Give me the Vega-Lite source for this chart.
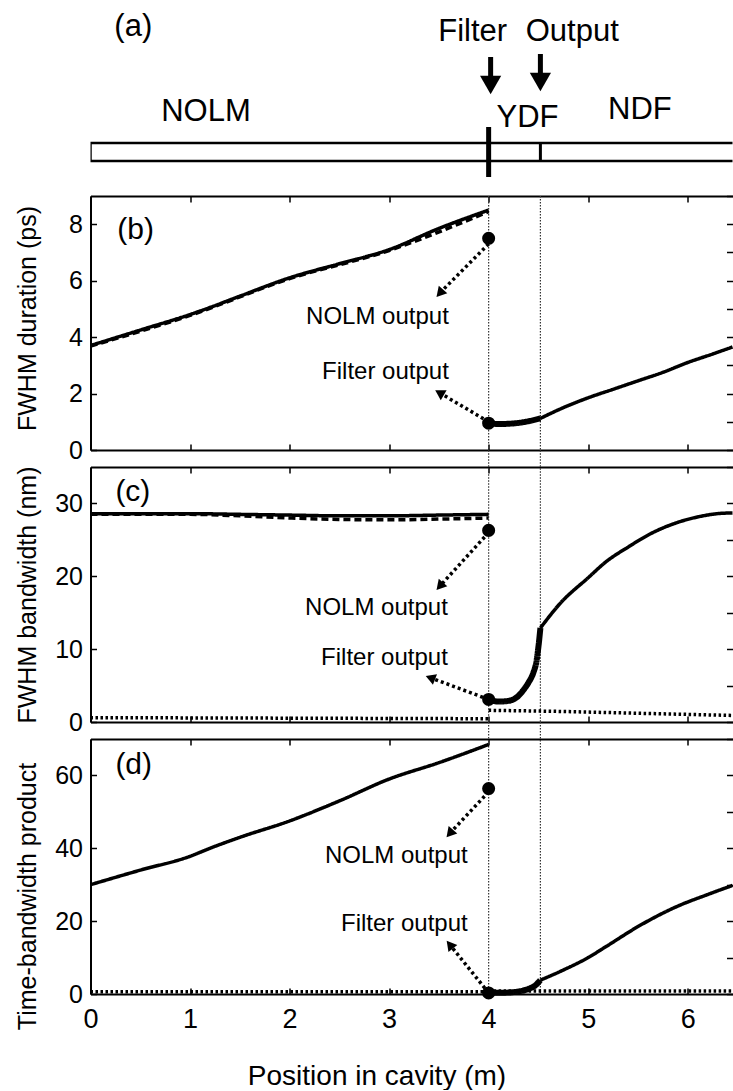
{
  "$schema": "https://vega.github.io/schema/vega-lite/v6.json",
  "background": "white",
  "padding": {"left": 14.5, "right": 0, "top": 0, "bottom": 0},
  "bounds": "flush",
  "spacing": 17,
  "config": {
    "view": {"stroke": null},
    "font": "Liberation Sans",
    "axis": {
      "labelFont": "Liberation Sans", "titleFont": "Liberation Sans",
      "labelColor": "black", "titleColor": "black",
      "tickColor": "black", "tickWidth": 1.5, "tickSize": -6,
      "domainColor": "black", "domainWidth": 2,
      "grid": false, "labelFontSize": 25, "titleFontSize": 25,
      "titleFontWeight": "normal", "labelFlush": false, "labelOverlap": false
    },
    "text": {"font": "Liberation Sans", "color": "black"}
  },
  "datasets": {
    "vlines": [{"x": 4.0}, {"x": 4.52}],
    "a_items": [
      {"kind": "text", "x": 0.43, "y": 27, "label": "(a)"},
      {"kind": "text", "x": 3.84, "y": 32, "label": "Filter"},
      {"kind": "text", "x": 4.84, "y": 32, "label": "Output"},
      {"kind": "text", "x": 1.16, "y": 112, "label": "NOLM"},
      {"kind": "text", "x": 4.39, "y": 118, "label": "YDF"},
      {"kind": "text", "x": 5.52, "y": 110, "label": "NDF"},
      {"kind": "sep", "x": 4.0, "y": 127, "y2": 177},
      {"kind": "out", "x": 4.52, "y": 143, "y2": 161},
      {"kind": "arrow", "x": 4.02, "y": 57, "y2": 78},
      {"kind": "arrow", "x": 4.52, "y": 54, "y2": 75},
      {"kind": "head", "x": 4.02, "y": 85},
      {"kind": "head", "x": 4.52, "y": 82},
      {"kind": "bar", "x": 0.0, "x2": 6.6, "y": 143, "y2": 161}
    ],
    "b_lines": [
      {"s": "NOLM", "x": 0.0, "y": 3.7}, {"s": "NOLM", "x": 0.5, "y": 4.25}, {"s": "NOLM", "x": 1.0, "y": 4.8},
      {"s": "NOLM", "x": 1.2, "y": 5.05}, {"s": "NOLM", "x": 1.5, "y": 5.45}, {"s": "NOLM", "x": 2.0, "y": 6.1},
      {"s": "NOLM", "x": 2.5, "y": 6.6}, {"s": "NOLM", "x": 3.0, "y": 7.1}, {"s": "NOLM", "x": 3.5, "y": 7.85},
      {"s": "NOLM", "x": 4.0, "y": 8.5},
      {"s": "NOLM2", "x": 0.0, "y": 3.68}, {"s": "NOLM2", "x": 1.0, "y": 4.77}, {"s": "NOLM2", "x": 2.0, "y": 6.07},
      {"s": "NOLM2", "x": 3.0, "y": 7.07}, {"s": "NOLM2", "x": 4.0, "y": 8.45},
      {"s": "YDF", "x": 4.0, "y": 0.95}, {"s": "YDF", "x": 4.1, "y": 0.92}, {"s": "YDF", "x": 4.2, "y": 0.93},
      {"s": "YDF", "x": 4.3, "y": 0.96}, {"s": "YDF", "x": 4.4, "y": 1.02}, {"s": "YDF", "x": 4.52, "y": 1.12},
      {"s": "NDF", "x": 4.52, "y": 1.12}, {"s": "NDF", "x": 4.75, "y": 1.5}, {"s": "NDF", "x": 5.0, "y": 1.85},
      {"s": "NDF", "x": 5.25, "y": 2.15}, {"s": "NDF", "x": 5.5, "y": 2.45}, {"s": "NDF", "x": 5.75, "y": 2.75},
      {"s": "NDF", "x": 6.0, "y": 3.1}, {"s": "NDF", "x": 6.25, "y": 3.4}, {"s": "NDF", "x": 6.45, "y": 3.65}
    ],
    "b_dots": [{"label": "NOLM", "x": 4.0, "y": 7.5}, {"label": "Filter", "x": 4.0, "y": 0.95}],
    "b_arrows": [
      {"label": "NOLM", "x": 4.0, "y": 7.3, "x2": 3.52, "y2": 5.6},
      {"label": "Filter", "x": 4.0, "y": 1.0, "x2": 3.52, "y2": 2.0}
    ],
    "b_text": [{"x": 3.6, "y": 4.7, "label": "NOLM output"}, {"x": 3.6, "y": 2.75, "label": "Filter output"}],
    "b_panel": [{"x": 0.27, "y": 7.8, "label": "(b)"}],
    "c_lines": [
      {"s": "NOLM", "x": 0.0, "y": 28.6}, {"s": "NOLM", "x": 1.0, "y": 28.6}, {"s": "NOLM", "x": 1.5, "y": 28.5},
      {"s": "NOLM", "x": 2.0, "y": 28.4}, {"s": "NOLM", "x": 2.5, "y": 28.3}, {"s": "NOLM", "x": 3.0, "y": 28.3},
      {"s": "NOLM", "x": 3.5, "y": 28.4}, {"s": "NOLM", "x": 4.0, "y": 28.5},
      {"s": "NOLM2", "x": 0.0, "y": 28.5}, {"s": "NOLM2", "x": 1.0, "y": 28.5}, {"s": "NOLM2", "x": 1.5, "y": 28.3},
      {"s": "NOLM2", "x": 2.0, "y": 28.0}, {"s": "NOLM2", "x": 2.5, "y": 27.8}, {"s": "NOLM2", "x": 3.0, "y": 27.75},
      {"s": "NOLM2", "x": 3.5, "y": 27.85}, {"s": "NOLM2", "x": 4.0, "y": 28.0},
      {"s": "YDF", "x": 4.0, "y": 3.1}, {"s": "YDF", "x": 4.1, "y": 2.8}, {"s": "YDF", "x": 4.2, "y": 2.9},
      {"s": "YDF", "x": 4.3, "y": 3.6}, {"s": "YDF", "x": 4.35, "y": 4.4}, {"s": "YDF", "x": 4.4, "y": 5.4},
      {"s": "YDF", "x": 4.45, "y": 6.8}, {"s": "YDF", "x": 4.48, "y": 8.3}, {"s": "YDF", "x": 4.5, "y": 10.3},
      {"s": "YDF", "x": 4.52, "y": 12.9},
      {"s": "NDF", "x": 4.52, "y": 12.9}, {"s": "NDF", "x": 4.72, "y": 16.3}, {"s": "NDF", "x": 5.0, "y": 19.8},
      {"s": "NDF", "x": 5.18, "y": 22.0}, {"s": "NDF", "x": 5.4, "y": 24.0}, {"s": "NDF", "x": 5.65, "y": 26.0},
      {"s": "NDF", "x": 5.9, "y": 27.4}, {"s": "NDF", "x": 6.12, "y": 28.2}, {"s": "NDF", "x": 6.3, "y": 28.6},
      {"s": "NDF", "x": 6.45, "y": 28.7},
      {"s": "BASE1", "x": 0.0, "y": 0.6}, {"s": "BASE1", "x": 4.0, "y": 0.45},
      {"s": "BASE2", "x": 4.0, "y": 1.6}, {"s": "BASE2", "x": 4.52, "y": 1.5}, {"s": "BASE2", "x": 5.5, "y": 1.2},
      {"s": "BASE2", "x": 6.45, "y": 0.9}
    ],
    "c_dots": [{"label": "NOLM", "x": 4.0, "y": 26.3}, {"label": "Filter", "x": 4.0, "y": 3.1}],
    "c_arrows": [
      {"label": "NOLM", "x": 4.0, "y": 26.0, "x2": 3.52, "y2": 18.8},
      {"label": "Filter", "x": 4.0, "y": 3.1, "x2": 3.43, "y2": 6.0}
    ],
    "c_text": [{"x": 3.59, "y": 15.7, "label": "NOLM output"}, {"x": 3.59, "y": 8.8, "label": "Filter output"}],
    "c_panel": [{"x": 0.25, "y": 31.6, "label": "(c)"}],
    "d_lines": [
      {"s": "NOLM", "x": 0.0, "y": 30.0}, {"s": "NOLM", "x": 0.5, "y": 34.0}, {"s": "NOLM", "x": 1.0, "y": 37.8},
      {"s": "NOLM", "x": 1.2, "y": 40.0}, {"s": "NOLM", "x": 1.5, "y": 43.0}, {"s": "NOLM", "x": 2.0, "y": 47.5},
      {"s": "NOLM", "x": 2.5, "y": 53.0}, {"s": "NOLM", "x": 3.0, "y": 59.0}, {"s": "NOLM", "x": 3.5, "y": 63.5},
      {"s": "NOLM", "x": 4.0, "y": 68.5},
      {"s": "YDF", "x": 4.0, "y": 0.3}, {"s": "YDF", "x": 4.15, "y": 0.35}, {"s": "YDF", "x": 4.3, "y": 0.7},
      {"s": "YDF", "x": 4.4, "y": 1.4}, {"s": "YDF", "x": 4.47, "y": 2.4}, {"s": "YDF", "x": 4.52, "y": 3.8},
      {"s": "NDF", "x": 4.52, "y": 3.8}, {"s": "NDF", "x": 4.72, "y": 6.2}, {"s": "NDF", "x": 5.0, "y": 10.0},
      {"s": "NDF", "x": 5.19, "y": 13.2}, {"s": "NDF", "x": 5.5, "y": 18.5}, {"s": "NDF", "x": 5.89, "y": 24.0},
      {"s": "NDF", "x": 6.2, "y": 27.3}, {"s": "NDF", "x": 6.45, "y": 29.8},
      {"s": "BASE1", "x": 0.0, "y": 0.6}, {"s": "BASE1", "x": 4.0, "y": 0.6},
      {"s": "BASE2", "x": 4.0, "y": 0.8}, {"s": "BASE2", "x": 6.45, "y": 0.8}
    ],
    "d_dots": [{"label": "NOLM", "x": 4.0, "y": 56.4}, {"label": "Filter", "x": 4.0, "y": 0.3}],
    "d_arrows": [
      {"label": "NOLM", "x": 4.0, "y": 55.5, "x2": 3.62, "y2": 44.4},
      {"label": "Filter", "x": 4.0, "y": 0.3, "x2": 3.62, "y2": 13.2}
    ],
    "d_text": [{"x": 3.79, "y": 37.8, "label": "NOLM output"}, {"x": 3.79, "y": 19.2, "label": "Filter output"}],
    "d_panel": [{"x": 0.25, "y": 63, "label": "(d)"}]
  },
  "vconcat": [
    {
      "width": 642, "height": 179,
      "view": {"stroke": null, "fill": "white"},
      "data": {"name": "a_items"},
      "layer": [
        {
          "transform": [{"filter": "datum.kind === 'bar'"}],
          "mark": {"type": "rect", "fill": "white", "stroke": "black", "strokeWidth": 2.5, "clip": true},
          "encoding": {
            "x": {"field": "x", "type": "quantitative", "scale": {"domain": [0, 6.45], "nice": false, "zero": false}, "axis": null},
            "x2": {"field": "x2"},
            "y": {"field": "y", "type": "quantitative", "scale": {"domain": [0, 179], "nice": false, "reverse": true}, "axis": null},
            "y2": {"field": "y2"}
          }
        },
        {
          "transform": [{"filter": "datum.kind === 'sep'"}],
          "mark": {"type": "rule", "color": "black", "strokeWidth": 5},
          "encoding": {
            "x": {"field": "x", "type": "quantitative"},
            "y": {"field": "y", "type": "quantitative"},
            "y2": {"field": "y2"}
          }
        },
        {
          "transform": [{"filter": "datum.kind === 'out'"}],
          "mark": {"type": "rule", "color": "black", "strokeWidth": 3},
          "encoding": {
            "x": {"field": "x", "type": "quantitative"},
            "y": {"field": "y", "type": "quantitative"},
            "y2": {"field": "y2"}
          }
        },
        {
          "transform": [{"filter": "datum.kind === 'arrow'"}],
          "mark": {"type": "rule", "color": "black", "strokeWidth": 5},
          "encoding": {
            "x": {"field": "x", "type": "quantitative"},
            "y": {"field": "y", "type": "quantitative"},
            "y2": {"field": "y2"}
          }
        },
        {
          "transform": [{"filter": "datum.kind === 'head'"}],
          "mark": {"type": "point", "shape": "triangle-down", "filled": true, "color": "black", "opacity": 1, "size": 450},
          "encoding": {
            "x": {"field": "x", "type": "quantitative"},
            "y": {"field": "y", "type": "quantitative"}
          }
        },
        {
          "transform": [{"filter": "datum.kind === 'text'"}],
          "mark": {"type": "text", "fontSize": 31, "align": "center", "baseline": "middle"},
          "encoding": {
            "x": {"field": "x", "type": "quantitative"},
            "y": {"field": "y", "type": "quantitative"},
            "text": {"field": "label"}
          }
        }
      ]
    },
    {
      "width": 642, "height": 254,
      "layer": [
        {
          "layer": [
            {
              "data": {"name": "vlines"},
              "mark": {"type": "rule", "color": "#333", "strokeWidth": 1.2, "strokeDash": [1.5, 1.5]},
              "encoding": {
                "x": {"field": "x", "type": "quantitative", "scale": {"domain": [0, 6.45], "nice": false, "zero": false},
                  "axis": {"values": [0, 1, 2, 3, 4, 5, 6], "labels": false, "title": null}}
              }
            },
            {
              "data": {"name": "b_lines"},
              "mark": {"type": "line", "color": "black", "strokeJoin": "round", "interpolate": "monotone"},
              "encoding": {
                "x": {"field": "x", "type": "quantitative"},
                "y": {"field": "y", "type": "quantitative", "scale": {"domain": [0, 9], "nice": false},
                  "axis": {"title": "FWHM duration (ps)", "values": [0, 1, 2, 3, 4, 5, 6, 7, 8, 9],
                    "labelExpr": "datum.value % 2 === 0 ? datum.label : ''", "labelPadding": 14,
                    "titleX": -63, "titleY": 122, "titleBaseline": "middle"}},
                "detail": {"field": "s", "type": "nominal"},
                "strokeWidth": {"condition": {"test": "datum.s === 'YDF'", "value": 6}, "value": 3.5},
                "strokeDash": {"condition": [
                  {"test": "datum.s === 'NOLM2'", "value": [7, 4]},
                  {"test": "datum.s === 'BASE1' || datum.s === 'BASE2'", "value": [2.5, 2.5]}
                ], "value": [1, 0]}
              }
            },
            {
              "data": {"name": "b_arrows"},
              "mark": {"type": "rule", "color": "black", "strokeWidth": 3.5, "strokeDash": [3, 3]},
              "encoding": {
                "x": {"field": "x", "type": "quantitative"},
                "y": {"field": "y", "type": "quantitative"},
                "x2": {"field": "x2"},
                "y2": {"field": "y2"}
              }
            },
            {
              "data": {"name": "b_arrows"},
              "mark": {"type": "point", "shape": "triangle", "filled": true, "color": "black", "opacity": 1, "size": 130},
              "encoding": {
                "x": {"field": "x2", "type": "quantitative"},
                "y": {"field": "y2", "type": "quantitative"},
                "angle": {"condition": {"test": "datum.label === 'NOLM'", "value": 221.6}, "value": 300.7}
              }
            },
            {
              "data": {"name": "b_dots"},
              "mark": {"type": "point", "shape": "circle", "filled": true, "color": "black", "opacity": 1, "size": 170},
              "encoding": {
                "x": {"field": "x", "type": "quantitative"},
                "y": {"field": "y", "type": "quantitative"}
              }
            },
            {
              "data": {"name": "b_text"},
              "mark": {"type": "text", "fontSize": 24, "align": "right", "baseline": "middle"},
              "encoding": {
                "x": {"field": "x", "type": "quantitative"},
                "y": {"field": "y", "type": "quantitative"},
                "text": {"field": "label"}
              }
            },
            {
              "data": {"name": "b_panel"},
              "mark": {"type": "text", "fontSize": 30, "align": "left", "baseline": "middle"},
              "encoding": {
                "x": {"field": "x", "type": "quantitative"},
                "y": {"field": "y", "type": "quantitative"},
                "text": {"field": "label"}
              }
            }
          ]
        },
        {
          "data": {"name": "b_dots"},
          "mark": {"type": "point", "opacity": 0},
          "encoding": {
            "x": {"field": "x", "type": "quantitative", "axis": {"orient": "top", "values": [0, 1, 2, 3, 4, 5, 6], "labels": false, "title": null}},
            "y": {"field": "y", "type": "quantitative", "axis": {"orient": "right", "values": [0, 1, 2, 3, 4, 5, 6, 7, 8, 9], "labels": false, "title": null, "domain": false}}
          }
        }
      ],
      "resolve": {"axis": {"x": "independent", "y": "independent"}}
    },
    {
      "width": 642, "height": 255,
      "layer": [
        {
          "layer": [
            {
              "data": {"name": "vlines"},
              "mark": {"type": "rule", "color": "#333", "strokeWidth": 1.2, "strokeDash": [1.5, 1.5]},
              "encoding": {
                "x": {"field": "x", "type": "quantitative", "scale": {"domain": [0, 6.45], "nice": false, "zero": false},
                  "axis": {"values": [0, 1, 2, 3, 4, 5, 6], "labels": false, "title": null}},
                "y": {"datum": 37.3, "type": "quantitative"},
                "y2": {"datum": 0}
              }
            },
            {
              "data": {"name": "c_lines"},
              "mark": {"type": "line", "color": "black", "strokeJoin": "round", "interpolate": "monotone"},
              "encoding": {
                "x": {"field": "x", "type": "quantitative"},
                "y": {"field": "y", "type": "quantitative", "scale": {"domain": [0, 35], "nice": false},
                  "axis": {"title": "FWHM bandwidth (nm)", "values": [0, 5, 10, 15, 20, 25, 30, 35],
                    "labelExpr": "datum.value % 10 === 0 ? datum.label : ''", "labelPadding": 14,
                    "titleX": -63, "titleY": 127.5, "titleBaseline": "middle"}},
                "detail": {"field": "s", "type": "nominal"},
                "strokeWidth": {"condition": {"test": "datum.s === 'YDF'", "value": 6}, "value": 3.5},
                "strokeDash": {"condition": [
                  {"test": "datum.s === 'NOLM2'", "value": [7, 4]},
                  {"test": "datum.s === 'BASE1' || datum.s === 'BASE2'", "value": [2.5, 2.5]}
                ], "value": [1, 0]}
              }
            },
            {
              "data": {"name": "c_arrows"},
              "mark": {"type": "rule", "color": "black", "strokeWidth": 3.5, "strokeDash": [3, 3]},
              "encoding": {
                "x": {"field": "x", "type": "quantitative"},
                "y": {"field": "y", "type": "quantitative"},
                "x2": {"field": "x2"},
                "y2": {"field": "y2"}
              }
            },
            {
              "data": {"name": "c_arrows"},
              "mark": {"type": "point", "shape": "triangle", "filled": true, "color": "black", "opacity": 1, "size": 130},
              "encoding": {
                "x": {"field": "x2", "type": "quantitative"},
                "y": {"field": "y2", "type": "quantitative"},
                "angle": {"condition": {"test": "datum.label === 'NOLM'", "value": 221.3}, "value": 291}
              }
            },
            {
              "data": {"name": "c_dots"},
              "mark": {"type": "point", "shape": "circle", "filled": true, "color": "black", "opacity": 1, "size": 170},
              "encoding": {
                "x": {"field": "x", "type": "quantitative"},
                "y": {"field": "y", "type": "quantitative"}
              }
            },
            {
              "data": {"name": "c_text"},
              "mark": {"type": "text", "fontSize": 24, "align": "right", "baseline": "middle"},
              "encoding": {
                "x": {"field": "x", "type": "quantitative"},
                "y": {"field": "y", "type": "quantitative"},
                "text": {"field": "label"}
              }
            },
            {
              "data": {"name": "c_panel"},
              "mark": {"type": "text", "fontSize": 30, "align": "left", "baseline": "middle"},
              "encoding": {
                "x": {"field": "x", "type": "quantitative"},
                "y": {"field": "y", "type": "quantitative"},
                "text": {"field": "label"}
              }
            }
          ]
        },
        {
          "data": {"name": "c_dots"},
          "mark": {"type": "point", "opacity": 0},
          "encoding": {
            "x": {"field": "x", "type": "quantitative", "axis": {"orient": "top", "values": [0, 1, 2, 3, 4, 5, 6], "labels": false, "title": null}},
            "y": {"field": "y", "type": "quantitative", "axis": {"orient": "right", "values": [0, 5, 10, 15, 20, 25, 30, 35], "labels": false, "title": null, "domain": false}}
          }
        }
      ],
      "resolve": {"axis": {"x": "independent", "y": "independent"}}
    },
    {
      "width": 642, "height": 255,
      "layer": [
        {
          "layer": [
            {
              "data": {"name": "vlines"},
              "mark": {"type": "rule", "color": "#333", "strokeWidth": 1.2, "strokeDash": [1.5, 1.5]},
              "encoding": {
                "x": {"field": "x", "type": "quantitative", "scale": {"domain": [0, 6.45], "nice": false, "zero": false},
                  "axis": {"values": [0, 1, 2, 3, 4, 5, 6], "format": "d", "labelFontSize": 27, "labelPadding": 18,
                    "title": "Position in cavity (m)", "titleFontSize": 28, "titlePadding": 30, "titleX": 286}},
                "y": {"datum": 74.7, "type": "quantitative"},
                "y2": {"datum": 0}
              }
            },
            {
              "data": {"name": "d_lines"},
              "mark": {"type": "line", "color": "black", "strokeJoin": "round", "interpolate": "monotone"},
              "encoding": {
                "x": {"field": "x", "type": "quantitative"},
                "y": {"field": "y", "type": "quantitative", "scale": {"domain": [0, 70], "nice": false},
                  "axis": {"title": "Time-bandwidth product", "values": [0, 10, 20, 30, 40, 50, 60, 70],
                    "labelExpr": "datum.value % 20 === 0 ? datum.label : ''", "labelPadding": 14,
                    "titleX": -63, "titleY": 157, "titleBaseline": "middle"}},
                "detail": {"field": "s", "type": "nominal"},
                "strokeWidth": {"condition": {"test": "datum.s === 'YDF'", "value": 6}, "value": 3.5},
                "strokeDash": {"condition": [
                  {"test": "datum.s === 'NOLM2'", "value": [7, 4]},
                  {"test": "datum.s === 'BASE1' || datum.s === 'BASE2'", "value": [2.5, 2.5]}
                ], "value": [1, 0]}
              }
            },
            {
              "data": {"name": "d_arrows"},
              "mark": {"type": "rule", "color": "black", "strokeWidth": 3.5, "strokeDash": [3, 3]},
              "encoding": {
                "x": {"field": "x", "type": "quantitative"},
                "y": {"field": "y", "type": "quantitative"},
                "x2": {"field": "x2"},
                "y2": {"field": "y2"}
              }
            },
            {
              "data": {"name": "d_arrows"},
              "mark": {"type": "point", "shape": "triangle", "filled": true, "color": "black", "opacity": 1, "size": 130},
              "encoding": {
                "x": {"field": "x2", "type": "quantitative"},
                "y": {"field": "y2", "type": "quantitative"},
                "angle": {"condition": {"test": "datum.label === 'NOLM'", "value": 220.8}, "value": 321}
              }
            },
            {
              "data": {"name": "d_dots"},
              "mark": {"type": "point", "shape": "circle", "filled": true, "color": "black", "opacity": 1, "size": 170},
              "encoding": {
                "x": {"field": "x", "type": "quantitative"},
                "y": {"field": "y", "type": "quantitative"}
              }
            },
            {
              "data": {"name": "d_text"},
              "mark": {"type": "text", "fontSize": 24, "align": "right", "baseline": "middle"},
              "encoding": {
                "x": {"field": "x", "type": "quantitative"},
                "y": {"field": "y", "type": "quantitative"},
                "text": {"field": "label"}
              }
            },
            {
              "data": {"name": "d_panel"},
              "mark": {"type": "text", "fontSize": 30, "align": "left", "baseline": "middle"},
              "encoding": {
                "x": {"field": "x", "type": "quantitative"},
                "y": {"field": "y", "type": "quantitative"},
                "text": {"field": "label"}
              }
            }
          ]
        },
        {
          "data": {"name": "d_dots"},
          "mark": {"type": "point", "opacity": 0},
          "encoding": {
            "x": {"field": "x", "type": "quantitative", "axis": {"orient": "top", "values": [0, 1, 2, 3, 4, 5, 6], "labels": false, "title": null}},
            "y": {"field": "y", "type": "quantitative", "axis": {"orient": "right", "values": [0, 10, 20, 30, 40, 50, 60, 70], "labels": false, "title": null, "domain": false}}
          }
        }
      ],
      "resolve": {"axis": {"x": "independent", "y": "independent"}}
    }
  ]
}
